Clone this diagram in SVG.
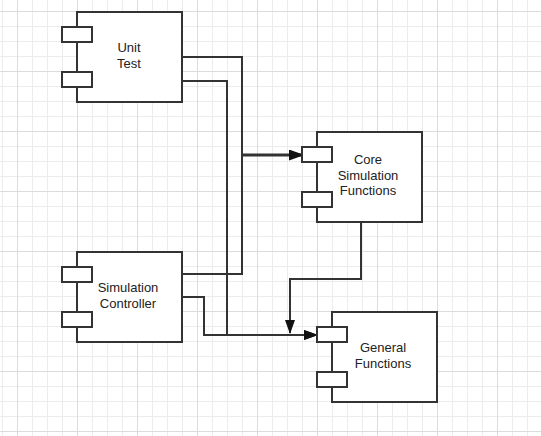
<svg xmlns="http://www.w3.org/2000/svg" width="541" height="436" viewBox="0 0 541 436">
<style>
.minor{stroke:#ececec;stroke-width:1;fill:none}
.major{stroke:#dcdcdc;stroke-width:1;fill:none}
.box{fill:#ffffff;stroke:#333333;stroke-width:2}
.port{fill:#ffffff;stroke:#333333;stroke-width:2}
.lbl{font-family:"Liberation Sans",Arial,sans-serif;font-size:13px;fill:#222222;text-anchor:middle}
.edge{fill:none;stroke:#333333;stroke-width:2;marker-end:url(#arr)}
</style>
<defs>
<marker id="arr" viewBox="0 0 14 10" refX="13" refY="5" markerWidth="14" markerHeight="10" markerUnits="userSpaceOnUse" orient="auto">
<path d="M0,0 L14,5 L0,10 Z" fill="#111111"/>
</marker>
</defs>
<rect width="541" height="436" fill="#ffffff"/>
<g id="grid">
<path class="minor" d="M2.5,0V436M32.5,0V436M47.5,0V436M62.5,0V436M92.5,0V436M107.5,0V436M122.5,0V436M152.5,0V436M167.5,0V436M182.5,0V436M212.5,0V436M227.5,0V436M242.5,0V436M272.5,0V436M287.5,0V436M302.5,0V436M332.5,0V436M347.5,0V436M362.5,0V436M392.5,0V436M407.5,0V436M422.5,0V436M452.5,0V436M467.5,0V436M482.5,0V436M512.5,0V436M527.5,0V436M0,26.5H541M0,41.5H541M0,56.5H541M0,86.5H541M0,101.5H541M0,116.5H541M0,146.5H541M0,161.5H541M0,176.5H541M0,206.5H541M0,221.5H541M0,236.5H541M0,266.5H541M0,281.5H541M0,296.5H541M0,326.5H541M0,341.5H541M0,356.5H541M0,386.5H541M0,401.5H541M0,416.5H541"/>
<path class="major" d="M17.5,0V436M77.5,0V436M137.5,0V436M197.5,0V436M257.5,0V436M317.5,0V436M377.5,0V436M437.5,0V436M497.5,0V436M0,11.5H541M0,71.5H541M0,131.5H541M0,191.5H541M0,251.5H541M0,311.5H541M0,371.5H541M0,431.5H541"/>
</g>
<g id="connectors">
<path class="edge" d="M182,57H242V154.5H302"/>
<path class="edge" d="M182,274H242V155.5H302"/>
<path class="edge" d="M182,81H227V335H317"/>
<path class="edge" d="M182,297H204V335H317"/>
<path class="edge" d="M361,222V279H290V333"/>
</g>
<g id="unit-test">
<rect class="box" x="77" y="12" width="105" height="90"/>
<rect class="port" x="62" y="27" width="30" height="15"/>
<rect class="port" x="62" y="72" width="30" height="15"/>
<text class="lbl" x="129" y="52">Unit</text>
<text class="lbl" x="129" y="68">Test</text>
</g>
<g id="simulation-controller">
<rect class="box" x="77" y="252" width="105" height="90"/>
<rect class="port" x="62" y="267" width="30" height="15"/>
<rect class="port" x="62" y="312" width="30" height="15"/>
<text class="lbl" x="128" y="292">Simulation</text>
<text class="lbl" x="128" y="308">Controller</text>
</g>
<g id="core-simulation-functions">
<rect class="box" x="317" y="132" width="105" height="90"/>
<rect class="port" x="302" y="147" width="30" height="15"/>
<rect class="port" x="302" y="192" width="30" height="15"/>
<text class="lbl" x="368" y="164">Core</text>
<text class="lbl" x="368" y="179.5">Simulation</text>
<text class="lbl" x="368" y="195">Functions</text>
</g>
<g id="general-functions">
<rect class="box" x="332" y="312" width="105" height="90"/>
<rect class="port" x="317" y="327" width="30" height="15"/>
<rect class="port" x="317" y="372" width="30" height="15"/>
<text class="lbl" x="383" y="352">General</text>
<text class="lbl" x="383" y="368">Functions</text>
</g>
</svg>
